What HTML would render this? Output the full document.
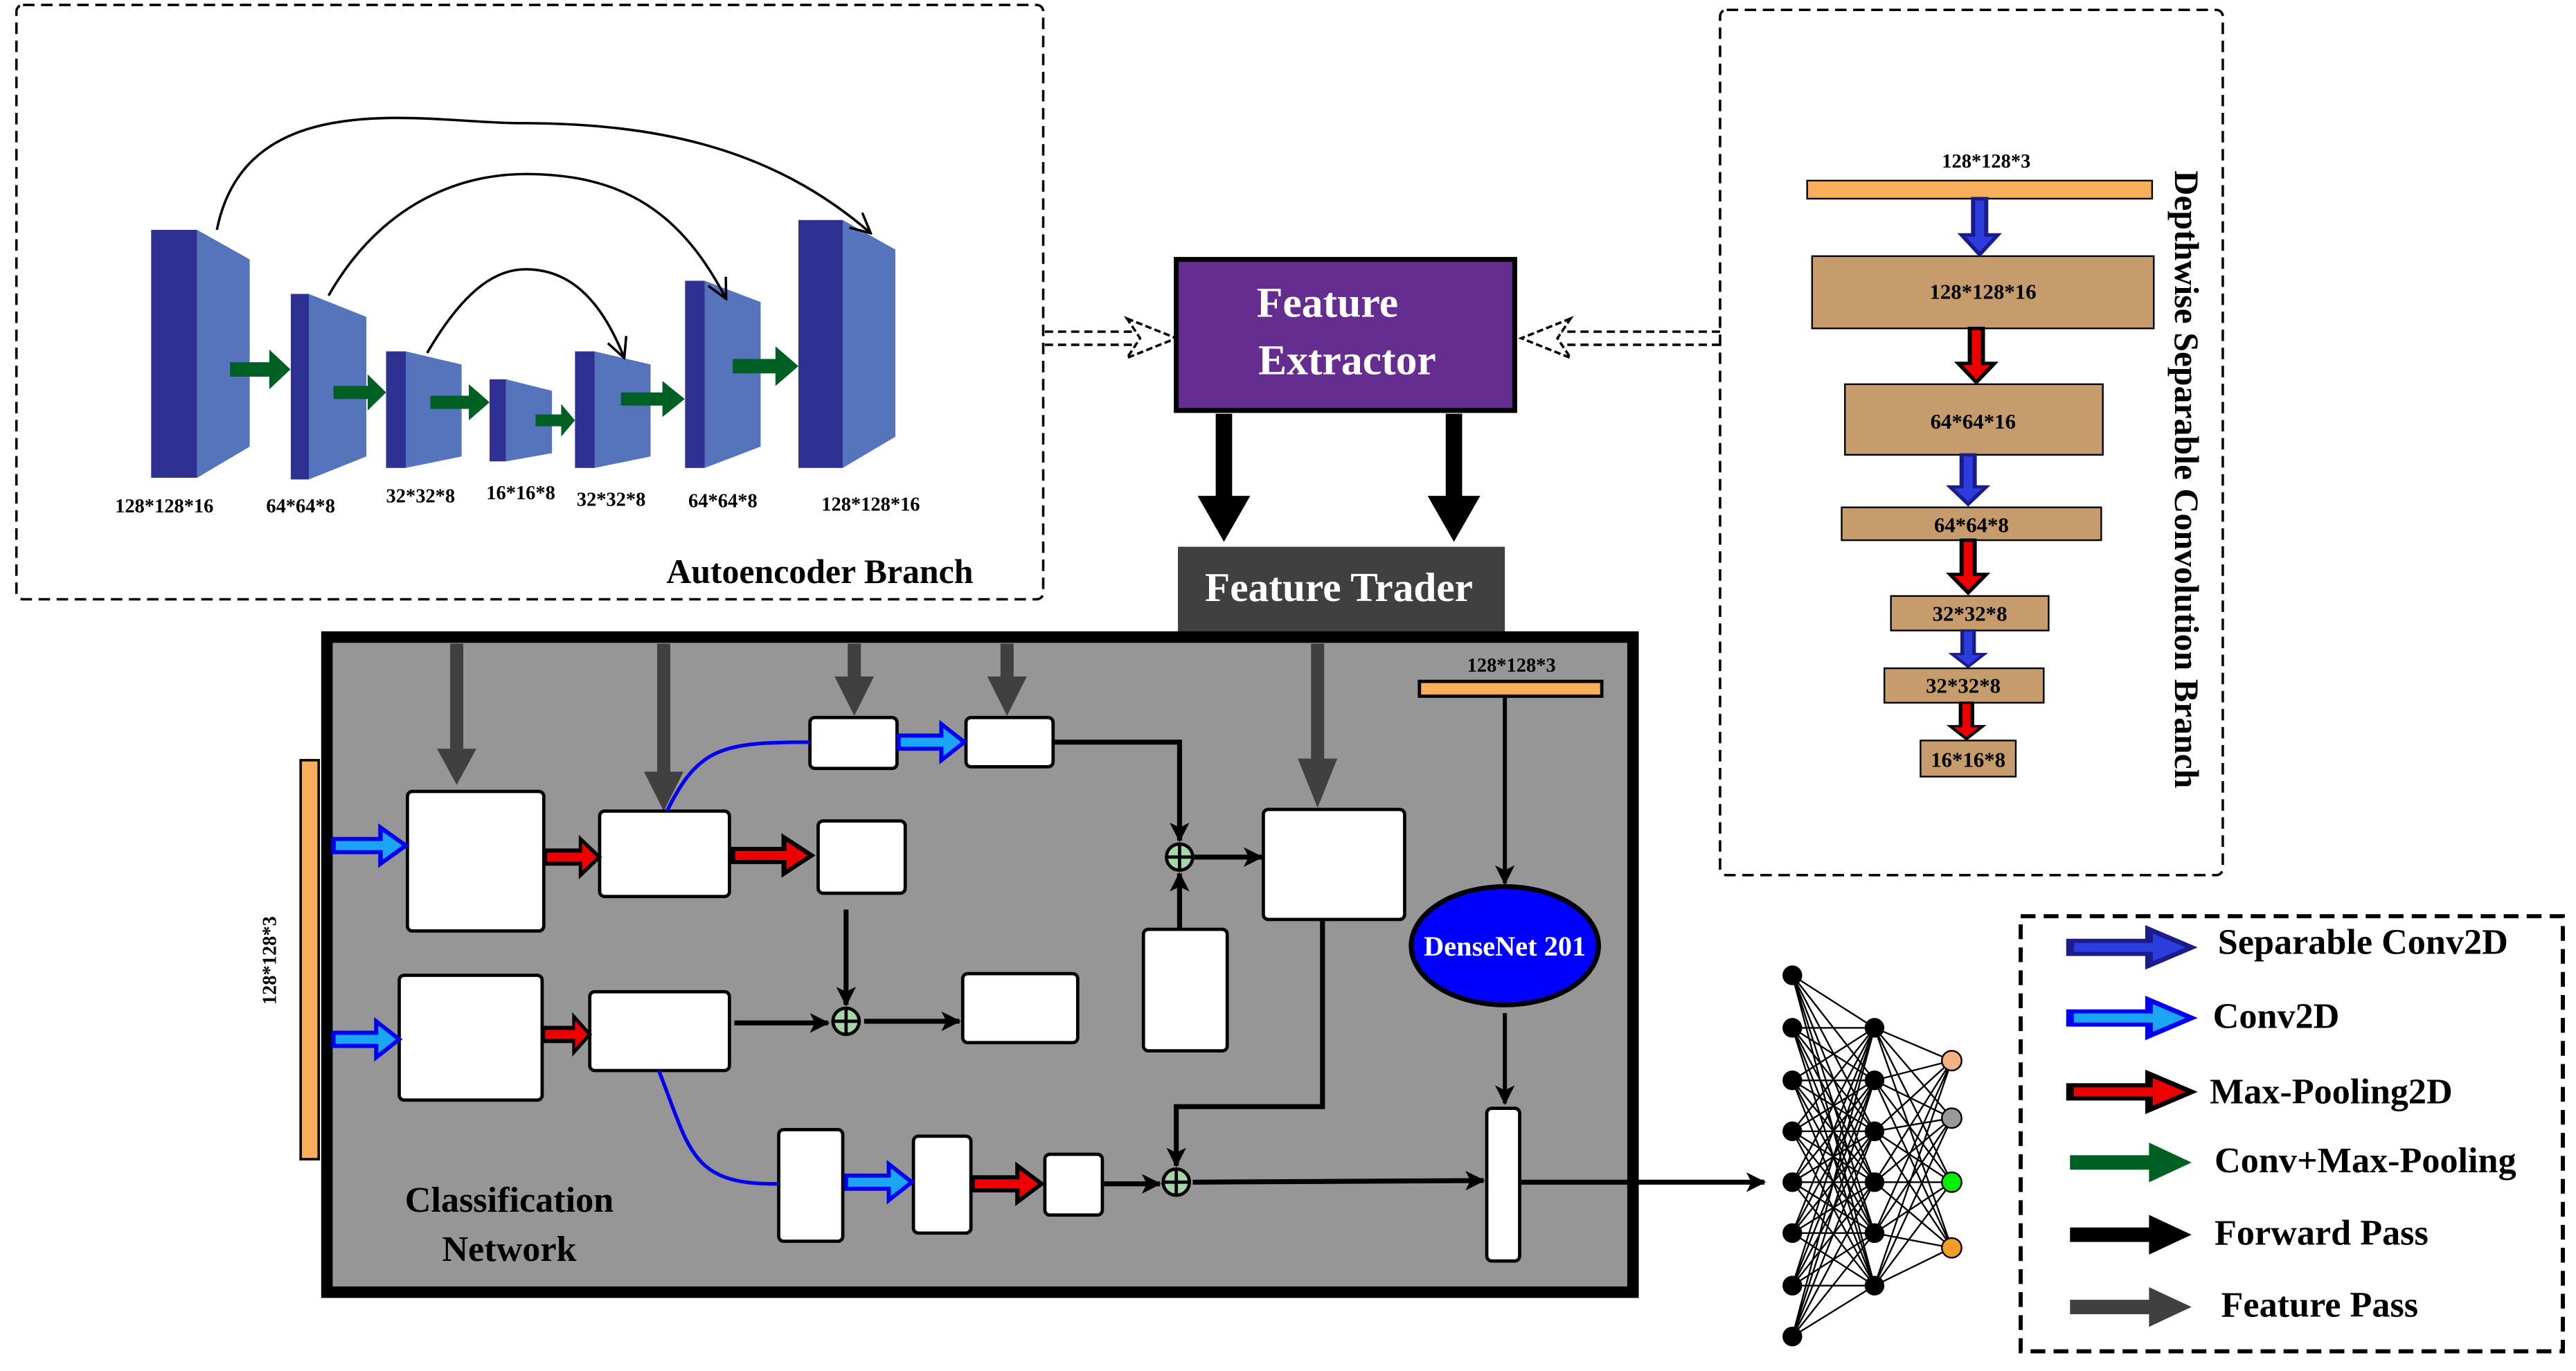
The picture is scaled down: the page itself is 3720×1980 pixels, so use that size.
<!DOCTYPE html>
<html><head><meta charset="utf-8"><style>
html,body{margin:0;padding:0;background:#fff;}
svg{display:block;}
text{font-family:"Liberation Serif",serif;font-weight:bold;}
</style></head><body>
<svg width="3720" height="1980" viewBox="0 0 1568 835" preserveAspectRatio="none" xmlns="http://www.w3.org/2000/svg">
<defs>
<path id="ap" d="M0,-4 H26 V-11 L40,0 L26,11 V4 H0 Z"/>
<g id="arC"><use href="#ap" fill="#1aa6f5" stroke="#0000ee" stroke-width="2.5"/></g>
<g id="arR"><use href="#ap" fill="#ee0000" stroke="#000" stroke-width="2.5"/></g>
<g id="arG"><use href="#ap" fill="#006024"/></g>
<g id="arB"><use href="#ap" fill="#2b3ddd" stroke="#1b1b8a" stroke-width="2.5"/></g>
<g id="arK"><use href="#ap" fill="#000"/></g>
<g id="arF"><use href="#ap" fill="#404040"/></g>
<marker id="mk2" markerWidth="12" markerHeight="12" refX="11" refY="6" orient="auto" markerUnits="userSpaceOnUse"><path d="M0,0 L12,6 L0,12 L3,6 Z" fill="#000"/></marker>
<marker id="mo" markerWidth="14" markerHeight="14" refX="13" refY="7" orient="auto" markerUnits="userSpaceOnUse"><path d="M1,1 L13,7 L1,13" fill="none" stroke="#000" stroke-width="1.5"/></marker>
</defs>

<!-- Autoencoder -->
<rect x="10" y="3" width="625" height="362" rx="4" fill="none" stroke="#000" stroke-width="1.5" stroke-dasharray="7,4"/>
<g fill="#5674BC">
<polygon points="120,140 152,158 152,272 120,291"/>
<polygon points="188,179 223,193 223,278 188,292"/>
<polygon points="247,214 281,222 281,278 247,285"/>
<polygon points="308,231 336,238 336,276 308,281"/>
<polygon points="362,214 396,222 396,278 362,285"/>
<polygon points="429,171 463,184 463,272 429,285"/>
<polygon points="513,134 545,152 545,266 513,285"/>
</g>
<g fill="#2E3192">
<rect x="92" y="140" width="28" height="151"/>
<rect x="177" y="179" width="11" height="113"/>
<rect x="235" y="214" width="12" height="71"/>
<rect x="298" y="231" width="10" height="50"/>
<rect x="350" y="214" width="12" height="71"/>
<rect x="417" y="171" width="12" height="114"/>
<rect x="486" y="134" width="27" height="151"/>
</g>
<use href="#arG" transform="translate(140,225) scale(0.92,1.1)"/>
<use href="#arG" transform="translate(203,239) scale(0.8,1)"/>
<use href="#arG" transform="translate(262,245) scale(0.9,1)"/>
<use href="#arG" transform="translate(326,256) scale(0.6,0.9)"/>
<use href="#arG" transform="translate(378,243) scale(0.97,1)"/>
<use href="#arG" transform="translate(446,223) scale(1,1.1)"/>
<g fill="none" stroke="#000" stroke-width="1.5">
<path d="M132,140 C150,50 260,75 316,75 C400,75 470,90 530,142" marker-end="url(#mo)"/>
<path d="M200,180 C240,110 300,106 320,106 C380,106 415,130 442,182" marker-end="url(#mo)"/>
<path d="M260,215 C285,172 305,164 320,164 C345,164 365,180 380,218" marker-end="url(#mo)"/>
</g>
<g font-size="12" text-anchor="middle">
<text x="100" y="312">128*128*16</text>
<text x="183" y="312">64*64*8</text>
<text x="256" y="306">32*32*8</text>
<text x="317" y="304">16*16*8</text>
<text x="372" y="308">32*32*8</text>
<text x="440" y="309">64*64*8</text>
<text x="530" y="311">128*128*16</text>
</g>
<text x="499" y="355" font-size="21" text-anchor="middle">Autoencoder Branch</text>

<!-- dashed connectors -->
<g fill="none" stroke="#000" stroke-width="1.5" stroke-dasharray="5,3">
<path d="M636,202 H700 M636,210 H700"/>
<path d="M1047,202 H945 M1047,210 H945"/>
</g>
<polygon points="686,194 716,206 686,218 694,206" fill="#fff" stroke="#000" stroke-width="1.5" stroke-dasharray="4,2"/>
<polygon points="956,194 926,206 956,218 948,206" fill="#fff" stroke="#000" stroke-width="1.5" stroke-dasharray="4,2"/>

<!-- Feature Extractor -->
<rect x="716" y="158" width="206" height="92" fill="#652D90" stroke="#000" stroke-width="3"/>
<text x="808" y="193" font-size="26" fill="#fff" text-anchor="middle">Feature</text>
<text x="820" y="228" font-size="26" fill="#fff" text-anchor="middle">Extractor</text>
<rect x="740" y="252" width="10" height="52" fill="#000"/>
<polygon points="729,302 761,302 745,330" fill="#000"/>
<rect x="880" y="252" width="10" height="52" fill="#000"/>
<polygon points="869,302 901,302 885,330" fill="#000"/>
<rect x="717" y="333" width="199" height="52" fill="#404040"/>
<text x="815" y="366" font-size="25" fill="#fff" text-anchor="middle">Feature Trader</text>

<!-- Classification network -->
<rect x="199" y="388" width="795" height="399" fill="#969696" stroke="#000" stroke-width="7"/>
<rect x="183" y="463" width="11" height="243" fill="#F9AE5B" stroke="#000" stroke-width="1.5"/>
<text transform="translate(168,585) rotate(-90)" font-size="12" text-anchor="middle">128*128*3</text>
<g fill="#404040">
<rect x="274" y="392" width="8" height="66"/><polygon points="266,456 290,456 278,478"/>
<rect x="400" y="392" width="8" height="80"/><polygon points="392,470 416,470 404,494"/>
<rect x="516" y="392" width="8" height="24"/><polygon points="508,412 532,412 520,436"/>
<rect x="609" y="392" width="8" height="24"/><polygon points="601,412 625,412 613,436"/>
<rect x="798" y="392" width="8" height="72"/><polygon points="790,462 814,462 802,492"/>
</g>
<g fill="#fff" stroke="#000" stroke-width="2">
<rect x="248" y="482" width="83" height="85" rx="3"/>
<rect x="365" y="494" width="79" height="52" rx="3"/>
<rect x="498" y="500" width="53" height="44" rx="3"/>
<rect x="493" y="437" width="53" height="31" rx="3"/>
<rect x="588" y="437" width="53" height="30" rx="3"/>
<rect x="769" y="493" width="86" height="67" rx="3"/>
<rect x="696" y="566" width="51" height="74" rx="3"/>
<rect x="243" y="594" width="87" height="76" rx="3"/>
<rect x="359" y="604" width="85" height="48" rx="3"/>
<rect x="586" y="593" width="70" height="42" rx="3"/>
<rect x="474" y="688" width="39" height="68" rx="3"/>
<rect x="556" y="692" width="35" height="59" rx="3"/>
<rect x="636" y="703" width="35" height="37" rx="3"/>
<rect x="905" y="675" width="20" height="93" rx="3"/>
</g>
<rect x="864" y="415" width="111" height="9" fill="#F9AE5B" stroke="#000" stroke-width="2"/>
<text x="920" y="409" font-size="12" text-anchor="middle">128*128*3</text>
<ellipse cx="916" cy="576" rx="57" ry="36" fill="#0000FF" stroke="#000" stroke-width="3"/>
<text x="916" y="582" font-size="17" fill="#fff" text-anchor="middle">DenseNet 201</text>
<path d="M406,494 C425,455 440,452 493,452" fill="none" stroke="#0000ee" stroke-width="2.2"/>
<path d="M401,652 C420,700 420,722 474,721" fill="none" stroke="#0000ee" stroke-width="2.2"/>
<g fill="none" stroke="#000" stroke-width="3">
<path d="M641,452 H718 V512" marker-end="url(#mk2)"/>
<path d="M718,566 V532" marker-end="url(#mk2)"/>
<path d="M727,522 H768" marker-end="url(#mk2)"/>
<path d="M515,554 V612" marker-end="url(#mk2)"/>
<path d="M447,623 H504" marker-end="url(#mk2)"/>
<path d="M526,622 H584" marker-end="url(#mk2)"/>
<path d="M805,561 V674 H716 V710" marker-end="url(#mk2)"/>
<path d="M672,721 H706" marker-end="url(#mk2)"/>
<path d="M726,720 L903,719" marker-end="url(#mk2)"/>
<path d="M916,425 V538" stroke-width="2.5" marker-end="url(#mk2)"/>
<path d="M916,617 V672" stroke-width="2.5" marker-end="url(#mk2)"/>
<path d="M926,720 H1074" marker-end="url(#mk2)"/>
</g>
<g fill="#a5d6a7" stroke="#000" stroke-width="2">
<circle cx="718" cy="522" r="8"/><circle cx="515" cy="622" r="8"/><circle cx="716" cy="720" r="8"/>
</g>
<g stroke="#000" stroke-width="2">
<path d="M710,522 H726 M718,514 V530 M507,622 H523 M515,614 V630 M708,720 H724 M716,712 V728"/>
</g>
<use href="#arC" transform="translate(203,515) scale(1.1,1)"/>
<use href="#arC" transform="translate(203,633) scale(1.0,1)"/>
<use href="#arC" transform="translate(547,452) scale(1.0,1)"/>
<use href="#arC" transform="translate(515,720) scale(1.0,1)"/>
<use href="#arR" transform="translate(332,522) scale(0.82,1)"/>
<use href="#arR" transform="translate(446,521) scale(1.2,1)"/>
<use href="#arR" transform="translate(331,630) scale(0.7,1)"/>
<use href="#arR" transform="translate(592,721) scale(1.05,1)"/>
<text x="310" y="738" font-size="22" text-anchor="middle">Classification</text>
<text x="310" y="768" font-size="22" text-anchor="middle">Network</text>

<!-- Neural net -->
<g stroke="#000" stroke-width="1">
<path d="M1091,594 L1141,626 M1091,594 L1141,658 M1091,594 L1141,689 M1091,594 L1141,720 M1091,594 L1141,751 M1091,594 L1141,783
M1091,626 L1141,626 M1091,626 L1141,658 M1091,626 L1141,689 M1091,626 L1141,720 M1091,626 L1141,751 M1091,626 L1141,783
M1091,658 L1141,626 M1091,658 L1141,658 M1091,658 L1141,689 M1091,658 L1141,720 M1091,658 L1141,751 M1091,658 L1141,783
M1091,689 L1141,626 M1091,689 L1141,658 M1091,689 L1141,689 M1091,689 L1141,720 M1091,689 L1141,751 M1091,689 L1141,783
M1091,720 L1141,626 M1091,720 L1141,658 M1091,720 L1141,689 M1091,720 L1141,720 M1091,720 L1141,751 M1091,720 L1141,783
M1091,751 L1141,626 M1091,751 L1141,658 M1091,751 L1141,689 M1091,751 L1141,720 M1091,751 L1141,751 M1091,751 L1141,783
M1091,783 L1141,626 M1091,783 L1141,658 M1091,783 L1141,689 M1091,783 L1141,720 M1091,783 L1141,751 M1091,783 L1141,783
M1091,814 L1141,626 M1091,814 L1141,658 M1091,814 L1141,689 M1091,814 L1141,720 M1091,814 L1141,751 M1091,814 L1141,783
M1141,626 L1188,646 M1141,626 L1188,681 M1141,626 L1188,720 M1141,626 L1188,760
M1141,658 L1188,646 M1141,658 L1188,681 M1141,658 L1188,720 M1141,658 L1188,760
M1141,689 L1188,646 M1141,689 L1188,681 M1141,689 L1188,720 M1141,689 L1188,760
M1141,720 L1188,646 M1141,720 L1188,681 M1141,720 L1188,720 M1141,720 L1188,760
M1141,751 L1188,646 M1141,751 L1188,681 M1141,751 L1188,720 M1141,751 L1188,760
M1141,783 L1188,646 M1141,783 L1188,681 M1141,783 L1188,720 M1141,783 L1188,760"/>
</g>
<g fill="#000">
<circle cx="1091" cy="594" r="6"/><circle cx="1091" cy="626" r="6"/><circle cx="1091" cy="658" r="6"/><circle cx="1091" cy="689" r="6"/>
<circle cx="1091" cy="720" r="6"/><circle cx="1091" cy="751" r="6"/><circle cx="1091" cy="783" r="6"/><circle cx="1091" cy="814" r="6"/>
<circle cx="1141" cy="626" r="6"/><circle cx="1141" cy="658" r="6"/><circle cx="1141" cy="689" r="6"/>
<circle cx="1141" cy="720" r="6"/><circle cx="1141" cy="751" r="6"/><circle cx="1141" cy="783" r="6"/>
</g>
<g stroke="#000" stroke-width="1">
<circle cx="1188" cy="646" r="6" fill="#F4B183"/><circle cx="1188" cy="681" r="6" fill="#999"/>
<circle cx="1188" cy="720" r="6" fill="#00ee00"/><circle cx="1188" cy="760" r="6" fill="#F39C2A"/>
</g>

<!-- Depthwise branch -->
<rect x="1047" y="6" width="306" height="527" rx="4" fill="none" stroke="#000" stroke-width="1.5" stroke-dasharray="7,4"/>
<text transform="translate(1324,292) rotate(90)" font-size="21" text-anchor="middle">Depthwise Separable Convolution Branch</text>
<text x="1209" y="102" font-size="12" text-anchor="middle">128*128*3</text>
<rect x="1100" y="110" width="210" height="11" fill="#F9AE5B" stroke="#000" stroke-width="1"/>
<g fill="#C69C6D" stroke="#000" stroke-width="1">
<rect x="1103" y="156" width="208" height="44"/>
<rect x="1123" y="234" width="157" height="43"/>
<rect x="1121" y="309" width="158" height="20"/>
<rect x="1151" y="363" width="96" height="21"/>
<rect x="1147" y="407" width="97" height="21"/>
<rect x="1169" y="451" width="58" height="22"/>
</g>
<g font-size="13" text-anchor="middle">
<text x="1207" y="182">128*128*16</text>
<text x="1201" y="261">64*64*16</text>
<text x="1200" y="324">64*64*8</text>
<text x="1199" y="378">32*32*8</text>
<text x="1195" y="422">32*32*8</text>
<text x="1198" y="467">16*16*8</text>
</g>
<use href="#arB" transform="translate(1205,121) rotate(90) scale(0.85,1)"/>
<use href="#arR" transform="translate(1203,200) rotate(90) scale(0.82,1)"/>
<use href="#arB" transform="translate(1198,277) rotate(90) scale(0.75,1)"/>
<use href="#arR" transform="translate(1198,329) rotate(90) scale(0.8,1)"/>
<use href="#arB" transform="translate(1198,384) rotate(90) scale(0.55,0.9)"/>
<use href="#arR" transform="translate(1197,428) rotate(90) scale(0.55,0.9)"/>

<!-- Legend -->
<rect x="1230" y="558" width="330" height="265" fill="none" stroke="#000" stroke-width="2.5" stroke-dasharray="9,5"/>
<use href="#arB" transform="translate(1260,577) scale(1.85,1)"/>
<use href="#arC" transform="translate(1260,620) scale(1.85,1)"/>
<use href="#arR" transform="translate(1260,665) scale(1.85,1)"/>
<use href="#arG" transform="translate(1260,708) scale(1.85,1.1)"/>
<use href="#arK" transform="translate(1260,752) scale(1.85,1.1)"/>
<use href="#arF" transform="translate(1260,796) scale(1.85,1.1)"/>
<g font-size="22">
<text x="1350" y="581">Separable Conv2D</text>
<text x="1347" y="626">Conv2D</text>
<text x="1345" y="672">Max-Pooling2D</text>
<text x="1348" y="714">Conv+Max-Pooling</text>
<text x="1348" y="758">Forward Pass</text>
<text x="1352" y="802">Feature Pass</text>
</g>
</svg>
</body></html>
